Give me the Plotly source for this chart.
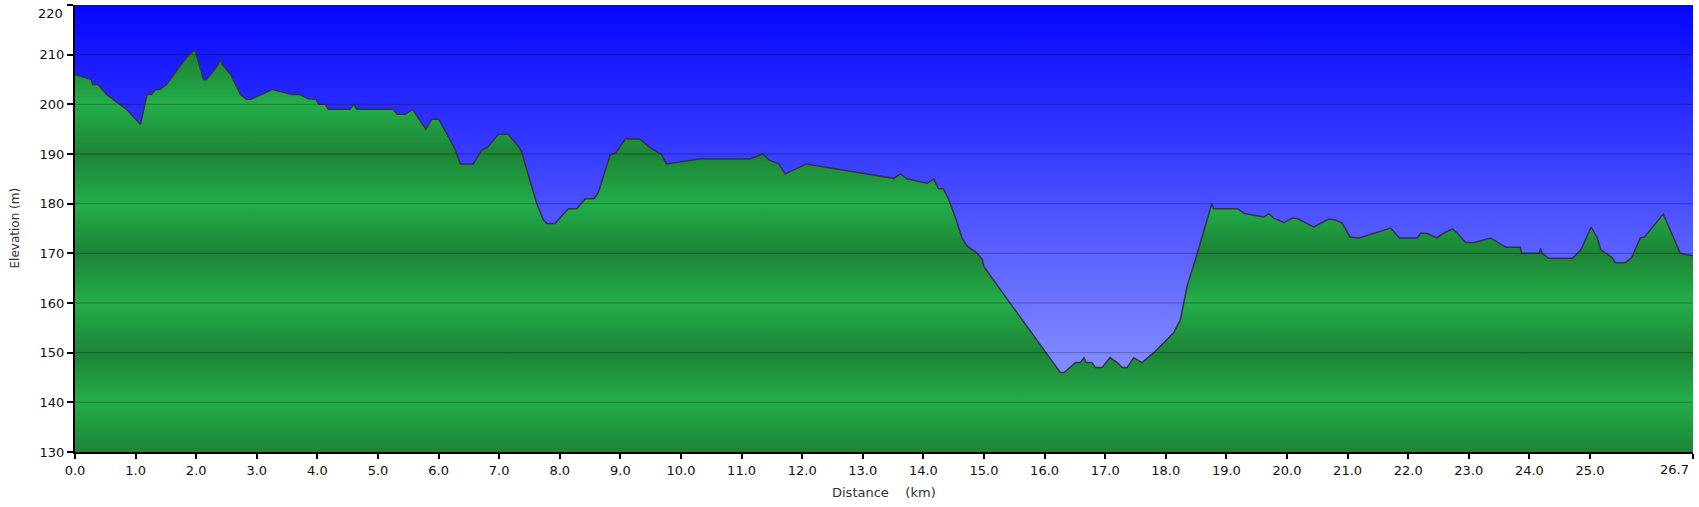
"""
Elevation profile
Recreates a route elevation chart (distance vs elevation) with plotly
"""

import plotly.graph_objects as go

# Route profile
dist_km = [
    0.00, 0.27, 0.29, 0.38, 0.52, 0.85, 1.08, 1.19, 1.26, 1.33, 1.40, 1.51,
    1.75, 1.88, 1.98, 2.12, 2.17, 2.34, 2.40, 2.43, 2.57, 2.73, 2.83, 2.90,
    3.26, 3.49, 3.58, 3.70, 3.85, 3.98, 4.02, 4.13, 4.18, 4.54, 4.60, 4.65,
    5.25, 5.32, 5.45, 5.57, 5.79, 5.89, 6.00, 6.14, 6.27, 6.36, 6.57, 6.71,
    6.80, 6.99, 7.15, 7.32, 7.37, 7.48, 7.62, 7.73, 7.79, 7.92, 8.14, 8.28,
    8.42, 8.57, 8.64, 8.83, 8.92, 9.08, 9.32, 9.49, 9.67, 9.76, 10.30, 11.14,
    11.35, 11.45, 11.61, 11.72, 11.91, 12.07, 13.51, 13.62, 13.73, 14.06, 14.17, 14.25,
    14.33, 14.42, 14.53, 14.64, 14.72, 14.89, 14.97, 15.00, 15.27, 16.26, 16.32, 16.51,
    16.59, 16.65, 16.69, 16.78, 16.84, 16.95, 17.08, 17.20, 17.28, 17.36, 17.47, 17.53,
    17.61, 17.80, 18.13, 18.24, 18.35, 18.52, 18.76, 18.79, 19.18, 19.30, 19.62, 19.70,
    19.78, 19.95, 20.09, 20.17, 20.44, 20.69, 20.80, 20.91, 21.04, 21.19, 21.71, 21.86,
    22.15, 22.21, 22.31, 22.47, 22.59, 22.73, 22.81, 22.95, 23.09, 23.36, 23.61, 23.85,
    23.87, 24.16, 24.19, 24.21, 24.32, 24.71, 24.85, 25.02, 25.12, 25.18, 25.36, 25.42,
    25.58, 25.69, 25.83, 25.90, 26.21, 26.49, 26.70,
]
elev_m = [
    206, 205, 204, 204, 202, 199, 196, 202, 202, 203, 203, 204,
    208, 210, 211, 205, 205, 207.6, 209, 208, 206, 202, 201, 201,
    203, 202.2, 202, 202, 201.1, 201, 200, 200, 199, 199, 200, 199,
    199, 198, 198, 199, 195, 197, 197, 194, 191, 188, 188, 190.8,
    191.3, 194, 194, 191.5, 190.5, 185.8, 180, 176.7, 176, 176, 179, 179,
    181, 181, 182.4, 189.8, 190.2, 193, 193, 191.3, 190, 188, 189, 189,
    190, 188.8, 188, 186, 187, 188, 185.1, 186, 185, 184.1, 185, 183,
    183, 180.8, 177.1, 173, 171.5, 170, 168.8, 167.3, 162.7, 146, 146, 148,
    148, 149, 148, 148, 147, 147, 149, 148, 147, 147, 149, 148.6,
    148, 150, 154, 156.6, 163.3, 170, 180, 179, 179, 178, 177.3, 178,
    177.1, 176.2, 177.1, 177, 175.3, 176.9, 176.7, 176.1, 173.3, 173.1, 175.1, 173.1,
    173.1, 174.1, 174, 173.1, 174.1, 174.9, 174.1, 172.2, 172.2, 173.1, 171.2, 171.2,
    170, 170, 171, 170, 169, 169, 170.7, 175.3, 173.1, 170.7, 169.2, 168.1,
    168.1, 169.2, 173.1, 173.3, 177.9, 170, 169.5,
]

x_tick_vals = [float(i) for i in range(26)] + [26.7]
x_tick_text = [f'{v:.1f}' for v in x_tick_vals]
y_tick_vals = list(range(130, 230, 10))
y_tick_text = [str(v) for v in y_tick_vals]

X_RANGE = [0, 26.7]
Y_RANGE = [130, 220]

FONT = 'DejaVu Sans, Verdana, sans-serif'
TICK_FONT = dict(family=FONT, size=13, color='#111')

# alternating green bands, dark on 130/150/170..., light on 140/160/180...
green_dark = 'rgb(28,132,54)'
green_light = 'rgb(36,174,74)'
green_scale = []
for i, v in enumerate(y_tick_vals):
    pos = (v - Y_RANGE[0]) / (Y_RANGE[1] - Y_RANGE[0])
    green_scale.append([pos, green_dark if i % 2 == 0 else green_light])

fig = go.Figure()

# Terrain
fig.add_trace(go.Scatter(
    x=dist_km,
    y=elev_m,
    mode='lines',
    line=dict(color='#30363e', width=1.5),
    fill='tozeroy',
    fillgradient=dict(type='vertical', colorscale=green_scale,
                      start=Y_RANGE[0], stop=Y_RANGE[1]),
    hoverinfo='skip',
    showlegend=False
))

# Sky between the terrain and the top of the chart
fig.add_trace(go.Scatter(
    x=dist_km,
    y=[Y_RANGE[1]] * len(dist_km),
    mode='lines',
    line=dict(width=0),
    fill='tonexty',
    fillgradient=dict(type='vertical',
                      colorscale=[[0, 'rgb(160,172,255)'], [1, 'rgb(5,5,255)']],
                      start=Y_RANGE[0], stop=Y_RANGE[1]),
    hoverinfo='skip',
    showlegend=False
))

# Grid lines sit on top of the fills
for v in y_tick_vals[1:-1]:
    fig.add_shape(type='line', xref='paper', x0=0, x1=1, yref='y', y0=v, y1=v,
                  line=dict(color='rgba(0,0,0,0.28)', width=1), layer='above')

# The labels at the ends of the axes are kept inside the picture
end_labels = [
    dict(text=x_tick_text[-1], xref='x', yref='paper', x=x_tick_vals[-1], y=0,
         xanchor='right', yanchor='top', xshift=-2, yshift=-8,
         showarrow=False, font=TICK_FONT),
    dict(text=y_tick_text[-1], xref='paper', yref='y', x=0, y=y_tick_vals[-1],
         xanchor='right', yanchor='top', xshift=-10, yshift=1,
         showarrow=False, font=TICK_FONT),
]
x_tick_text[-1] = ''
y_tick_text[-1] = ''

fig.update_layout(
    width=1699,
    height=507,
    margin=dict(l=75, r=6, t=5, b=55),
    paper_bgcolor='white',
    plot_bgcolor='white',
    font=TICK_FONT,
    xaxis=dict(
        range=X_RANGE,
        tickvals=x_tick_vals,
        ticktext=x_tick_text,
        showgrid=False,
        zeroline=False,
        showline=True,
        linecolor='black',
        linewidth=2,
        ticks='outside',
        ticklen=5,
        tickwidth=2,
        tickcolor='black',
        ticklabeloverflow='allow',
        automargin=False,
        layer='above traces'
    ),
    yaxis=dict(
        range=Y_RANGE,
        tickvals=y_tick_vals,
        ticktext=y_tick_text,
        showgrid=False,
        zeroline=False,
        showline=True,
        linecolor='black',
        linewidth=2,
        ticks='outside',
        ticklen=6,
        tickwidth=2,
        tickcolor='black',
        ticklabeloverflow='allow',
        automargin=False,
        layer='above traces'
    ),
    annotations=end_labels + [
        dict(text='Elevation (m)', xref='paper', yref='paper', x=0, y=0.5,
             xanchor='center', yanchor='middle', xshift=-61, textangle=-90,
             showarrow=False, font=dict(family=FONT, size=12, color='#333')),
        dict(text='Distance\u00a0\u00a0\u00a0 (km)', xref='paper', yref='paper',
             x=0.5, y=0, xanchor='center', yanchor='middle', yshift=-40,
             showarrow=False, font=dict(family=FONT, size=13, color='#333')),
    ],
    hovermode=False
)

# the page body has a default margin; drop it so the chart fills the window
fig.write_html("out.html",
               config={'displayModeBar': False, 'staticPlot': True},
               post_script="document.body.style.margin='0px';document.body.style.overflow='hidden';")
